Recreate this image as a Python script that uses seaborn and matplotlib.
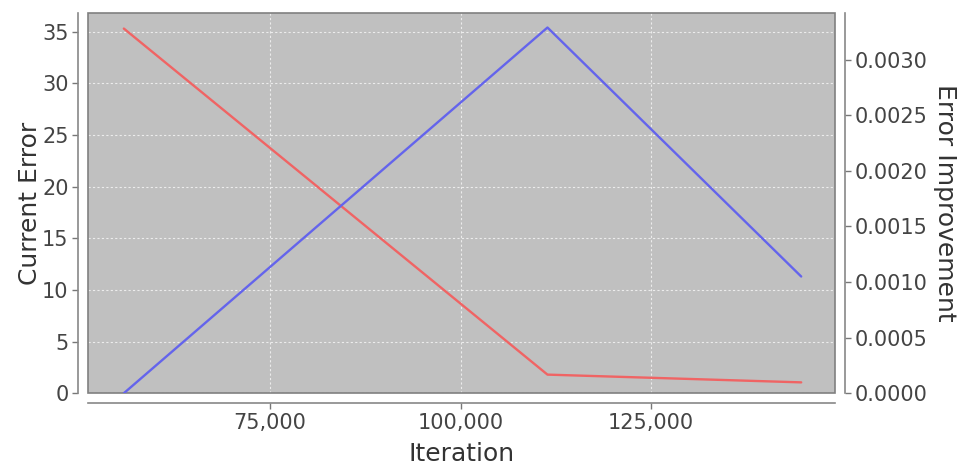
import pandas as pd
import matplotlib
matplotlib.use("Agg")
import matplotlib.pyplot as plt
import seaborn as sns
from matplotlib.ticker import FuncFormatter, MultipleLocator
from matplotlib.patches import Rectangle

# data
iterations = [55800, 111400, 144700]
current_error = [35.3, 1.8, 1.05]
error_improvement = [0.0, 0.00329, 0.00105]

df = pd.DataFrame({"Iteration": iterations,
                   "Current Error": current_error,
                   "Error Improvement": error_improvement})

sns.set_style("ticks")
plt.rcParams["font.family"] = ["DejaVu Sans"]

fig = plt.figure(figsize=(9.61, 4.67), dpi=100)
ax = fig.add_axes([0.0916, 0.158, 0.7774, 0.814])
ax.set_facecolor("#c0c0c0")
ax2 = ax.twinx()

sns.lineplot(data=df, x="Iteration", y="Current Error", ax=ax,
             color="#f06464", lw=1.7)
sns.lineplot(data=df, x="Iteration", y="Error Improvement", ax=ax2,
             color="#6464ec", lw=1.7)

ax.set_xlim(51100, 149150)
ax.set_ylim(0, 36.8)
ax2.set_ylim(0, 0.00342)

ax.xaxis.set_major_locator(MultipleLocator(25000))
ax.yaxis.set_major_locator(MultipleLocator(5))
ax2.yaxis.set_major_locator(MultipleLocator(0.0005))
ax.xaxis.set_major_formatter(FuncFormatter(lambda v, p: f"{v:,.0f}"))
ax2.yaxis.set_major_formatter(FuncFormatter(lambda v, p: f"{v:.4f}"))

ax.grid(True, color="#ececec", ls=(0, (2, 2)), lw=0.8)
ax.set_axisbelow(True)

for a in (ax, ax2):
    for s in a.spines.values():
        s.set_visible(False)
    a.tick_params(colors="#777777", labelcolor="#444444", labelsize=15,
                  length=4, width=1, pad=3)
ax.spines["left"].set_visible(True)
ax.spines["bottom"].set_visible(True)
ax2.spines["right"].set_visible(True)
for s in (ax.spines["left"], ax.spines["bottom"], ax2.spines["right"]):
    s.set_position(("outward", 7))
    s.set_color("#888888")
    s.set_linewidth(1.2)

# plot outline
ax.add_patch(Rectangle((0, 0), 1, 1, transform=ax.transAxes, fill=False,
                       edgecolor="#808080", lw=1.2, zorder=5, clip_on=False))

ax.set_xlabel("Iteration", fontsize=18, color="#333333")
ax.set_ylabel("Current Error", fontsize=18, color="#333333")
ax2.set_ylabel("Error Improvement", fontsize=18, color="#333333",
               rotation=270, va="center")
ax.xaxis.set_label_coords(0.5, -0.128)
ax.yaxis.set_label_coords(-0.061, 0.5)
ax2.yaxis.set_label_coords(1.147, 0.5)

fig.savefig("out.png", dpi=100)
